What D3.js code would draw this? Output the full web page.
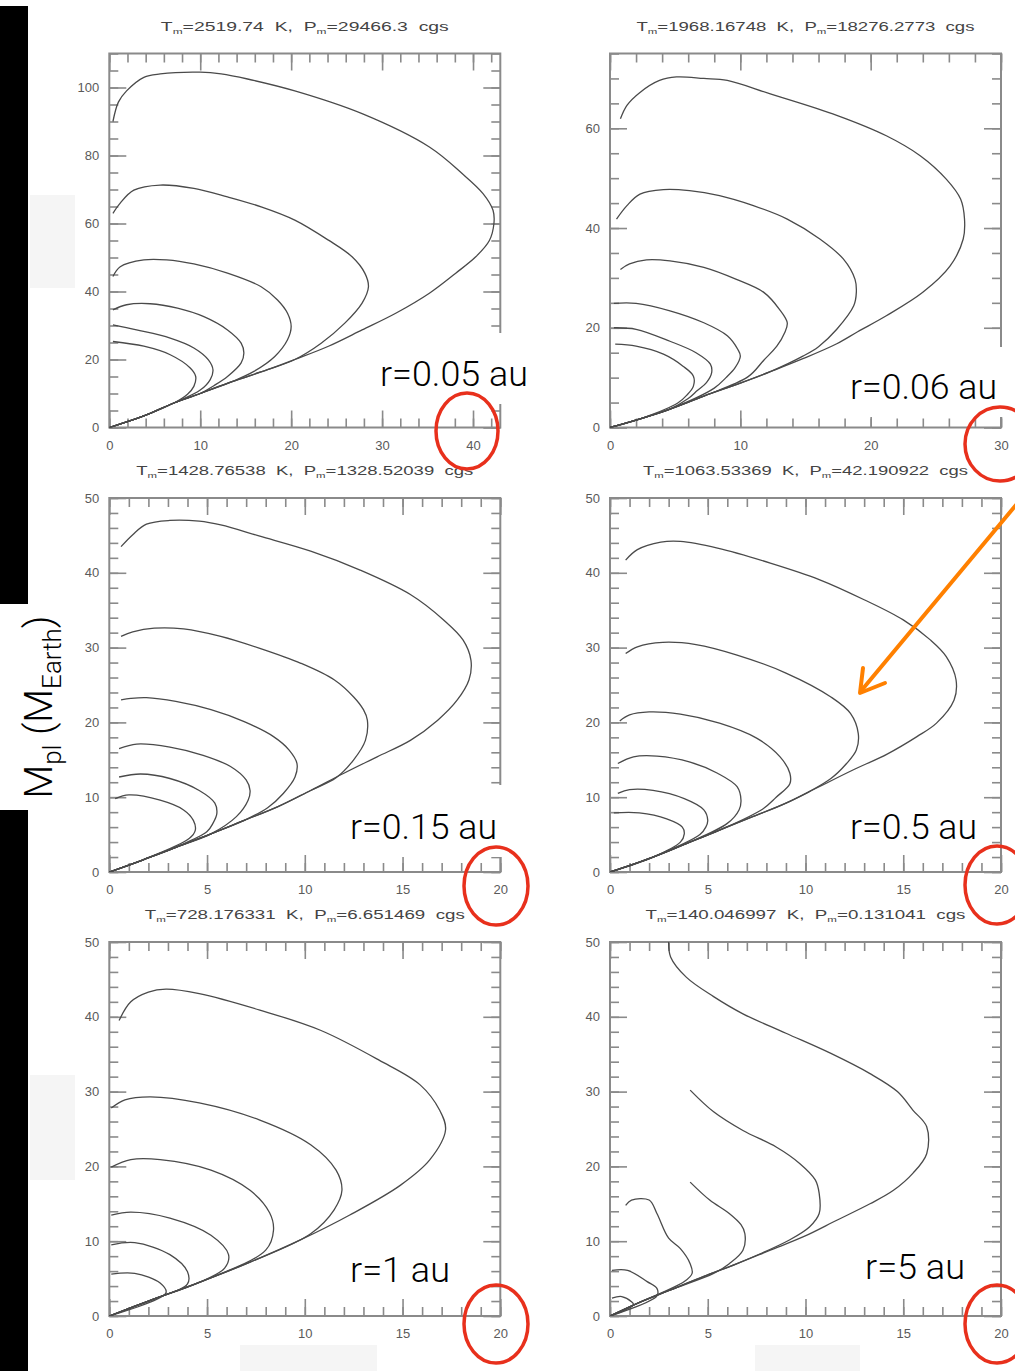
<!doctype html>
<html lang="en">
<head>
<meta charset="utf-8">
<title>Mpl contours</title>
<style>
html, body {
	margin: 0;
	padding: 0;
	background: #fff;
}
svg { display: block; }
.tick text {
	font-family: 'Liberation Sans', Arial, sans-serif;
	font-size: 13px;
	fill: #5a5a5a;
}
.tick line { stroke: #8a8a8a; stroke-width: 1.6px; }
.title {
	font-family: 'Liberation Sans', Arial, sans-serif;
	font-size: 13px;
	fill: #444;
	white-space: pre;
}
.big {
	font-family: 'Roboto', 'Open Sans', sans-serif;
	font-weight: 300;
	fill: #000;
}
.curve {
	fill: none;
	stroke: #4a4a4a;
	stroke-width: 1.3px;
}
</style>
</head>
<body>
<div id="container"></div>
<script src="https://cdn.jsdelivr.net/npm/d3@7"></script>
<script>
(function (d3) {
	'use strict';

	/* DATA */

	var temps = ['2519.74', '1968.16748', '1428.76538', '1063.53369', '728.176331', '140.046997'];
	var pressures = ['29466.3', '18276.2773', '1328.52039', '42.190922', '6.651469', '0.131041'];
	var radii = ['r=0.05 au', 'r=0.06 au', 'r=0.15 au', 'r=0.5 au', 'r=1 au', 'r=5 au'];

	var xMax = [43, 30, 20, 20, 20, 20];
	var yMax = [110, 75, 50, 50, 50, 50];
	var xTicks = [[0, 10, 20, 30, 40], [0, 10, 20, 30], [0, 5, 10, 15, 20], [0, 5, 10, 15, 20], [0, 5, 10, 15, 20], [0, 5, 10, 15, 20]];
	var yTicks = [[0, 20, 40, 60, 80, 100], [0, 20, 40, 60], [0, 10, 20, 30, 40, 50], [0, 10, 20, 30, 40, 50], [0, 10, 20, 30, 40, 50], [0, 10, 20, 30, 40, 50]];
	var xMinorStep = [2, 2, 1, 1, 1, 1];
	var yMinorStep = [5, 5, 2, 2, 2, 2];

	// lower common branch of every panel (from origin upward)
	var diag1 = [[0, 0], [3.8, 3.4], [7.1, 7.2], [10, 10], [13.5, 13.5], [17.4, 17], [20.4, 20]];
	var diag2 = [[0, 0], [2.5, 1.9], [4.6, 3.7], [7.2, 6.3], [10.1, 9], [12.3, 11.2], [14.8, 13.8], [17.4, 16.8]];
	var diag3 = [[0, 0], [1.7, 1.6], [3.4, 3.3], [5.2, 5.1], [6.9, 6.9], [8.6, 8.7], [10.3, 10.9], [12, 13.2]];
	var diag4 = [[0, 0], [2.2, 2], [3.9, 3.8], [5.6, 5.6], [7.3, 7.4], [9, 9.2], [10.7, 11.4], [12.4, 13.6]];
	var diag5 = [[0, 0], [2.1, 2.1], [4.6, 4.5], [7.2, 7.2], [9.8, 10.2], [12.3, 13.5]];
	var diag6 = [[0, 0], [1.4, 1.7], [3.1, 3.5], [4.8, 5.3], [6.5, 7], [8.2, 8.8], [9.9, 10.6], [11.6, 12.8]];

	var curves1 = [
		[[0.4, 90], [1.0, 95.7], [1.9, 99], [3.8, 103], [5.6, 104], [10, 104.5], [12.3, 104], [15.2, 102.5], [20.4, 99], [27.8, 92.3], [35.2, 82.5], [38.8, 74.7], [41.1, 68.8], [42.2, 63.9], [42.3, 60], [41.8, 55], [40.3, 50.2], [38.1, 45.4], [35.2, 39.5], [31.5, 33.6], [27.8, 28.7], [24.1, 23.9]],
		[[0.4, 63], [1.2, 66], [2.7, 69.8], [5.6, 71.3], [9.3, 70.3], [13, 67.8], [16.7, 64.9], [20.4, 61], [24.1, 55.1], [26.7, 50.2], [28.1, 45.4], [28.5, 41.4], [27.8, 36.6], [25.9, 30.7], [23.3, 24.8]],
		[[0.4, 44.4], [1.2, 47.3], [3.8, 49.3], [6.3, 49.3], [9.3, 48.1], [13, 45.4], [16.7, 41.4], [18.5, 37.5], [19.6, 33.6], [20, 29.7], [19.6, 25.8], [18.2, 20.9], [15.9, 16.5]],
		[[0.4, 34.6], [1.9, 36.1], [4.5, 36.4], [7.5, 35.1], [10.4, 32.6], [13, 28.7], [14.5, 24.8], [14.8, 21.9], [14.5, 19], [13, 15], [11.5, 12.3]],
		[[0.4, 30.2], [3, 28.7], [6.7, 26.3], [9.3, 23.4], [10.9, 19.9], [11.4, 17], [11.1, 14.1], [10, 11]],
		[[0.4, 25.3], [3.8, 23.9], [6.7, 21.4], [8.9, 17.5], [9.5, 15], [9.3, 12.1], [8.6, 9.8]]
	];
	var curves2 = [
		[[0.8, 61.9], [1.3, 64.6], [2.3, 67.2], [3.8, 69.6], [5.1, 70.3], [7.2, 70], [9, 69.6], [12.3, 66.9], [17.4, 62.6], [21.2, 58.5], [23.8, 54.5], [25.8, 49.8], [26.9, 45.8], [27.2, 41.8], [27.1, 37.8], [26.1, 32.4], [24, 27.1], [21.2, 22.4], [19, 19.2]],
		[[0.5, 41.8], [1.3, 44.5], [2.3, 46.8], [4.1, 47.7], [6.1, 47.5], [8.4, 46.5], [11, 44.5], [13.6, 41.8], [16.1, 37.8], [17.9, 33.8], [18.8, 29.7], [18.9, 27.1], [18.7, 24.4], [17.4, 19.7], [16, 16.2], [14.8, 14.3]],
		[[0.8, 31.7], [1.5, 32.8], [2.8, 33.6], [4.6, 33.4], [7.2, 32.1], [9.7, 29.7], [11.8, 27.1], [13, 23.7], [13.6, 21], [13.4, 19], [12.8, 16.3], [11.8, 13.5], [10.6, 10.2]],
		[[0.3, 24.9], [2, 24.9], [4.6, 23.4], [7.2, 21], [9, 18.4], [9.8, 15.7], [10, 14.3], [9.6, 12], [8.9, 10], [8, 7.9]],
		[[0.3, 20], [2, 19.7], [4.6, 17.3], [6.6, 15], [7.7, 12.7], [7.8, 11], [7.4, 9], [6.7, 7.4], [6, 5.8]],
		[[0.4, 16.7], [2, 16.3], [4.1, 14.7], [5.6, 12.3], [6.4, 10.3], [6.4, 8.3], [5.9, 6.5], [5.2, 4.9]]
	];
	var curves3 = [
		[[0.6, 43.5], [1.2, 45.1], [1.9, 46.5], [3.1, 47], [4.6, 46.9], [5.7, 46.4], [7.7, 44.9], [10.3, 42.9], [12.8, 40.4], [15.4, 37.1], [17.1, 33.7], [18.1, 31], [18.5, 28.3], [18.4, 25.7], [17.8, 23], [16.8, 20.3], [15.4, 17.6], [13.7, 15.4]],
		[[0.6, 31.5], [1.2, 32.1], [2.3, 32.6], [3.8, 32.5], [5.7, 31.5], [7.7, 29.9], [9.8, 27.9], [11.5, 25.7], [12.5, 23.4], [13, 21.7], [13.2, 20.3], [13.1, 17.6], [12.5, 15], [11.6, 12.6]],
		[[0.6, 23], [1.1, 23.2], [1.9, 23.3], [3.4, 22.8], [5.2, 21.7], [6.9, 20.1], [8.4, 18.1], [9.2, 16.3], [9.6, 14.5], [9.5, 12.7], [8.9, 10.5], [8.1, 8.6]],
		[[0.5, 16.5], [1.4, 17.1], [3.1, 16.7], [4.8, 15.6], [6.2, 14.1], [7, 12.3], [7.2, 10.9], [7.1, 9.6], [6.5, 7.4]],
		[[0.5, 12.7], [1.6, 13.1], [3.1, 12.5], [4.6, 10.9], [5.4, 9.2], [5.5, 7.8], [5.3, 6.5], [5, 5.4]],
		[[0.3, 9.8], [1, 10.3], [2.6, 9.6], [3.8, 8.3], [4.3, 6.9], [4.4, 5.6], [4.1, 4.5]]
	];
	var curves4 = [
		[[0.8, 41.7], [1.4, 43.1], [2.6, 44.1], [3.6, 44.2], [5.5, 43.3], [8.2, 41.3], [10.7, 39.1], [13, 36.4], [15, 33.7], [16.4, 31], [17.2, 28.8], [17.7, 25.7], [17.6, 23], [16.7, 19.9], [15.7, 18.1], [14.2, 15.8]],
		[[0.8, 29.2], [1.4, 30.1], [2.7, 30.7], [4.4, 30.4], [6.5, 29], [9, 26.6], [11.3, 23.4], [12.3, 21.2], [12.7, 18.5], [12.6, 16.3], [12.1, 14.5], [11.3, 12.5]],
		[[0.5, 20.2], [1, 21], [2, 21.4], [3.6, 21.1], [5.6, 19.9], [7.5, 17.9], [8.7, 15.4], [9.2, 13.2], [9.2, 11.8], [8.5, 10], [7.8, 8.4]],
		[[0.4, 14.5], [1.2, 15.4], [2.4, 15.5], [4.1, 14.7], [5.5, 13.2], [6.5, 11.4], [6.7, 9.6], [6.6, 8.3], [6, 6.5]],
		[[0.4, 10.5], [1, 11], [2.2, 10.9], [3.8, 9.8], [4.8, 8.3], [5, 6.9], [4.9, 6], [4.6, 5]],
		[[0.2, 7.9], [1.5, 7.9], [2.9, 7.1], [3.7, 6], [3.8, 5.1], [3.6, 4]]
	];
	var curves5 = [
		[[0.5, 39.5], [1.1, 42], [2, 43.3], [2.9, 43.7], [4.6, 43.1], [7.7, 40.9], [10.8, 38.2], [13.8, 34.2], [15.9, 30.9], [16.9, 27.5], [17.2, 24.9], [16.4, 20.9], [14.9, 17.5]],
		[[0.1, 27.8], [0.8, 28.9], [2.1, 29.3], [4.6, 28.5], [7.7, 26.2], [10.3, 22.9], [11.6, 19.5], [11.9, 16.8], [11.5, 14.2], [10.3, 11]],
		[[0.1, 19.9], [1.1, 20.9], [2.6, 20.9], [5.2, 19.5], [7.2, 16.8], [8.2, 13.8], [8.4, 11.5], [8, 8.8]],
		[[0.1, 13.5], [1.1, 13.9], [3.1, 13.1], [5.2, 10.8], [6.1, 8.2], [5.9, 6.4]],
		[[0.1, 9.5], [1.3, 9.8], [3.1, 8.2], [4, 5.9], [4, 4.3]],
		[[0.1, 5.6], [1.3, 5.7], [2.6, 4.4], [2.9, 3.1]]
	];
	var curves6 = [
		[[3, 50], [3.1, 48], [3.9, 45.3], [5.3, 42.7], [6.8, 40.4], [9, 37.8], [11.3, 35.1], [13.3, 32.4], [14.7, 30], [15.5, 27.5], [16.2, 25.3], [16.2, 21.7], [15.5, 19.1], [14.5, 16.8], [13.3, 15]],
		[[4.1, 30.2], [5.3, 27.3], [6.8, 24.8], [8.5, 22.6], [9.7, 20.4], [10.5, 18.2], [10.7, 16.4], [10.7, 13.7], [10.2, 11.9], [9.2, 10.2]],
		[[4.1, 17.9], [5.1, 15.5], [6.1, 13.7], [6.7, 12.2], [6.9, 11], [6.8, 8.8], [6.1, 7], [5.3, 5.7]],
		[[0.8, 14.8], [1.1, 15.5], [2, 15.5], [2.4, 13.7], [3, 10.4], [3.6, 9], [4.1, 7], [4.2, 5.7], [3.8, 4.6]],
		[[0.1, 6.1], [0.9, 6.1], [1.9, 4.6], [2.4, 3.7], [2.4, 2.7]],
		[[0.1, 2.4], [0.6, 2.6], [1.1, 1.9], [1.2, 1.5]]
	];

	var curves = [curves1, curves2, curves3, curves4, curves5, curves6];
	var diags = [diag1, diag2, diag3, diag4, diag5, diag6];


	/* LAYOUT */

	var COL_X = [109.3, 610];
	var ROW_Y = [53.5, 498, 942];
	var W = 391;
	var H = 374;
	var TITLE_Y = [31, 475, 919];
	var TITLE_W = [288, 338, 337, 325, 320, 320];
	var LABEL = [[380, 386, 148], [850, 399, 147], [350, 839, 147], [850, 839, 127], [350, 1282, 100], [865, 1279, 100]];
	var LABEL_BOX = [[372, 333, 160, 71], [842, 347, 175, 70], [345, 785, 185, 72]];
	var RINGS = [[467, 431, 31, 38], [1000, 444, 35, 37], [496, 886, 32, 39], [997, 885, 32, 39], [496, 1324, 32, 39], [997, 1324, 32, 39]];

	var svg = d3.select('#container')
		.append('svg')
			.attr('width', 1015)
			.attr('height', 1371);

	/* slide background bits */
	svg.append('rect').attr('x', 0).attr('y', 6).attr('width', 28).attr('height', 598).attr('fill', '#000');
	svg.append('rect').attr('x', 0).attr('y', 810).attr('width', 28).attr('height', 561).attr('fill', '#000');
	[[30, 195, 45, 93], [30, 1075, 45, 105], [240, 1345, 137, 26], [755, 1345, 105, 26]].forEach(function (r) {
		svg.append('rect').attr('x', r[0]).attr('y', r[1]).attr('width', r[2]).attr('height', r[3]).attr('fill', '#f5f5f5');
	});

	var noLines = function (sel) { sel.select('.domain').remove(); };

	var drawPanel = function (i) {
		var col = i % 2;
		var row = Math.floor(i / 2);
		var x = d3.scaleLinear().domain([0, xMax[i]]).range([0, W]);
		var y = d3.scaleLinear().domain([0, yMax[i]]).range([H, 0]);
		var g = svg.append('g')
			.attr('transform', 'translate(' + COL_X[col] + ',' + ROW_Y[row] + ')');

		var xMinor = d3.range(0, xMax[i] + 1e-9, xMinorStep[i]);
		var yMinor = d3.range(0, yMax[i] + 1e-9, yMinorStep[i]);

		// minor ticks, all four sides
		g.append('g').attr('transform', 'translate(0,' + H + ')')
			.call(d3.axisBottom(x).tickValues(xMinor).tickSize(-9).tickFormat('')).call(noLines);
		g.append('g')
			.call(d3.axisTop(x).tickValues(xMinor).tickSize(-9).tickFormat('')).call(noLines);
		g.append('g')
			.call(d3.axisLeft(y).tickValues(yMinor).tickSize(-9).tickFormat('')).call(noLines);
		g.append('g').attr('transform', 'translate(' + W + ',0)')
			.call(d3.axisRight(y).tickValues(yMinor).tickSize(-9).tickFormat('')).call(noLines);

		// major ticks
		g.append('g').attr('transform', 'translate(0,' + H + ')')
			.call(d3.axisBottom(x).tickValues(xTicks[i]).tickSize(-17).tickPadding(13).tickFormat(d3.format('d'))).call(noLines);
		g.append('g')
			.call(d3.axisTop(x).tickValues(xTicks[i]).tickSize(-17).tickFormat('')).call(noLines);
		g.append('g')
			.call(d3.axisLeft(y).tickValues(yTicks[i]).tickSize(-17).tickPadding(10).tickFormat(d3.format('d'))).call(noLines);
		g.append('g').attr('transform', 'translate(' + W + ',0)')
			.call(d3.axisRight(y).tickValues(yTicks[i]).tickSize(-17).tickFormat('')).call(noLines);

		g.append('rect')
			.attr('width', W).attr('height', H)
			.attr('fill', 'none').attr('stroke', '#8a8a8a').attr('stroke-width', 2);

		g.append('clipPath').attr('id', 'clip' + i)
			.append('rect').attr('width', W).attr('height', H);

		var line = d3.line()
			.x(function (d) { return x(d[0]); })
			.y(function (d) { return y(d[1]); })
			.curve(d3.curveCatmullRom.alpha(0.5));

		var vis = g.append('g').attr('clip-path', 'url(#clip' + i + ')');
		curves[i].forEach(function (c) {
			var last = c[c.length - 1];
			var tail = diags[i].filter(function (p) { return p[0] < last[0] - 1; }).reverse();
			vis.append('path')
				.attr('class', 'curve')
				.attr('d', line(c.concat(tail)));
		});

		// title
		var t = svg.append('text')
			.attr('class', 'title')
			.attr('x', COL_X[col] + W / 2)
			.attr('y', TITLE_Y[row])
			.attr('text-anchor', 'middle')
			.attr('textLength', TITLE_W[i])
			.attr('lengthAdjust', 'spacingAndGlyphs');
		t.append('tspan').text('T');
		t.append('tspan').attr('font-size', '8px').attr('dy', 3).text('m');
		t.append('tspan').attr('dy', -3).text('=' + temps[i] + '  K,  P');
		t.append('tspan').attr('font-size', '8px').attr('dy', 3).text('m');
		t.append('tspan').attr('dy', -3).text('=' + pressures[i] + '  cgs');
	};

	d3.range(6).forEach(drawPanel);

	/* radius labels */
	LABEL_BOX.forEach(function (b) {
		svg.append('rect').attr('x', b[0]).attr('y', b[1]).attr('width', b[2]).attr('height', b[3]).attr('fill', '#fff');
	});
	radii.forEach(function (r, i) {
		svg.append('text')
			.attr('class', 'big')
			.attr('x', LABEL[i][0])
			.attr('y', LABEL[i][1])
			.attr('font-size', '35px')
			.attr('textLength', LABEL[i][2])
			.attr('lengthAdjust', 'spacingAndGlyphs')
			.text(r);
	});

	/* red rings round the last x tick */
	RINGS.forEach(function (c) {
		svg.append('ellipse')
			.attr('cx', c[0]).attr('cy', c[1]).attr('rx', c[2]).attr('ry', c[3])
			.attr('fill', 'none').attr('stroke', '#e8301c').attr('stroke-width', 3.5);
	});

	/* orange arrow */
	svg.append('line')
		.attr('x1', 1016).attr('y1', 505).attr('x2', 861).attr('y2', 691)
		.attr('stroke', '#ff8000').attr('stroke-width', 4).attr('stroke-linecap', 'round');
	svg.append('path')
		.attr('d', 'M863,668 L860,693 L885,683')
		.attr('fill', 'none').attr('stroke', '#ff8000').attr('stroke-width', 4)
		.attr('stroke-linecap', 'round').attr('stroke-linejoin', 'round');

	/* y axis label */
	var yl = svg.append('text')
		.attr('class', 'big')
		.attr('transform', 'translate(52,707) rotate(-90)')
		.attr('text-anchor', 'middle')
		.attr('font-size', '39px');
	yl.append('tspan').text('M');
	yl.append('tspan').attr('font-size', '26px').attr('dy', 9).text('pl');
	yl.append('tspan').attr('dy', -9).text(' (M');
	yl.append('tspan').attr('font-size', '26px').attr('dy', 9).text('Earth');
	yl.append('tspan').attr('dy', -9).text(')');

})(window.d3);
</script>
</body>
</html>
